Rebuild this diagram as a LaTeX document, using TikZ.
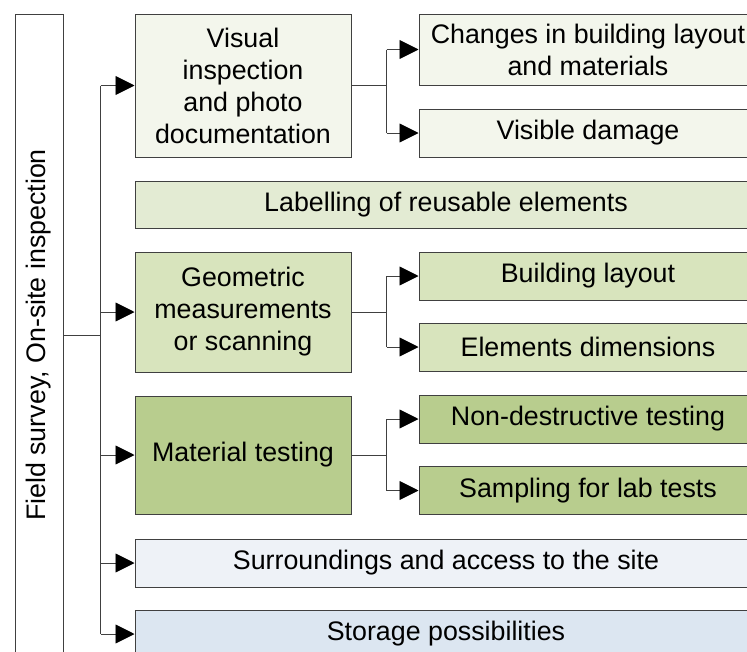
\documentclass[tikz,border=0pt]{standalone}
\usepackage{fontspec}
\setmainfont{Liberation Sans}
\usetikzlibrary{arrows.meta}
\definecolor{cA}{HTML}{F3F6EC}
\definecolor{cB}{HTML}{E3EBD3}
\definecolor{cC}{HTML}{D8E4BD}
\definecolor{cD}{HTML}{B8CD8E}
\definecolor{cE}{HTML}{EEF2F7}
\definecolor{cF}{HTML}{DCE6F1}
\definecolor{bord}{HTML}{404040}
\begin{document}
\begin{tikzpicture}[x=1pt,y=-1pt,
  box/.style={draw=bord, line width=1pt, inner sep=0pt, align=center,
    font=\fontsize{26.8}{32}\selectfont},
  conn/.style={draw=black!75, line width=0.9pt},
  arr/.style={conn, -{Triangle[length=19pt,width=19pt,color=black,fill=black]}}]
\useasboundingbox (0,0) rectangle (747,651);
\clip (0,0) rectangle (747,651);
\fill[white] (0,0) rectangle (747,651);
% left column
\node[box, fill=white, minimum width=48pt, minimum height=642pt] (left) at (39,335) {};
\node[font=\fontsize{26.8}{32}\selectfont, rotate=90] (lefttxt) at (left.center) {Field survey, On-site inspection};
% main column
\node[box, fill=cA, minimum width=216pt, minimum height=143pt] (vis) at (243,85.5) {Visual\\inspection\\and photo\\documentation};
\node[box, fill=cB, minimum width=622pt, minimum height=47pt] (lab) at (446,204.5) {Labelling of reusable elements};
\node[box, fill=cC, minimum width=216pt, minimum height=120pt] (geo) at (243,312) {Geometric\\measurements\\or scanning};
\node[box, fill=cD, minimum width=216pt, minimum height=118pt] (mat) at (243,455) {Material testing};
\node[box, fill=cE, minimum width=622pt, minimum height=48pt] (sur) at (446,563) {Surroundings and access to the site};
\node[box, fill=cF, minimum width=622pt, minimum height=48pt] (sto) at (446,634) {Storage possibilities};
% right column
\node[box, fill=cA, minimum width=338pt, minimum height=71pt] (chg) at (588,49.5) {Changes in building layout\\and materials};
\node[box, fill=cA, minimum width=338pt, minimum height=48pt] (vdm) at (588,133) {Visible damage};
\node[box, fill=cC, minimum width=338pt, minimum height=48pt] (bld) at (588,276) {Building layout};
\node[box, fill=cC, minimum width=338pt, minimum height=48pt] (eld) at (588,347) {Elements dimensions};
\node[box, fill=cD, minimum width=338pt, minimum height=48pt] (ndt) at (588,419) {Non-destructive testing};
\node[box, fill=cD, minimum width=338pt, minimum height=48pt] (smp) at (588,490.5) {Sampling for lab tests};
% trunk
\draw[conn] (left.east) -- ++(37,0) coordinate (tr);
\draw[conn] (vis.west -| tr) -- (sto.west -| tr);
\foreach \n in {vis,geo,mat,sur,sto} \draw[arr] (\n.west -| tr) -- (\n.west);
% branches
\draw[conn] (vis.east) -- ++(35,0) coordinate (b1);
\draw[conn] (chg.west -| b1) -- (vdm.west -| b1);
\draw[arr] (chg.west -| b1) -- (chg.west);
\draw[arr] (vdm.west -| b1) -- (vdm.west);
\draw[conn] (geo.east) -- ++(35,0) coordinate (b2);
\draw[conn] (bld.west -| b2) -- (eld.west -| b2);
\draw[arr] (bld.west -| b2) -- (bld.west);
\draw[arr] (eld.west -| b2) -- (eld.west);
\draw[conn] (mat.east) -- ++(35,0) coordinate (b3);
\draw[conn] (ndt.west -| b3) -- (smp.west -| b3);
\draw[arr] (ndt.west -| b3) -- (ndt.west);
\draw[arr] (smp.west -| b3) -- (smp.west);
\end{tikzpicture}
\end{document}
